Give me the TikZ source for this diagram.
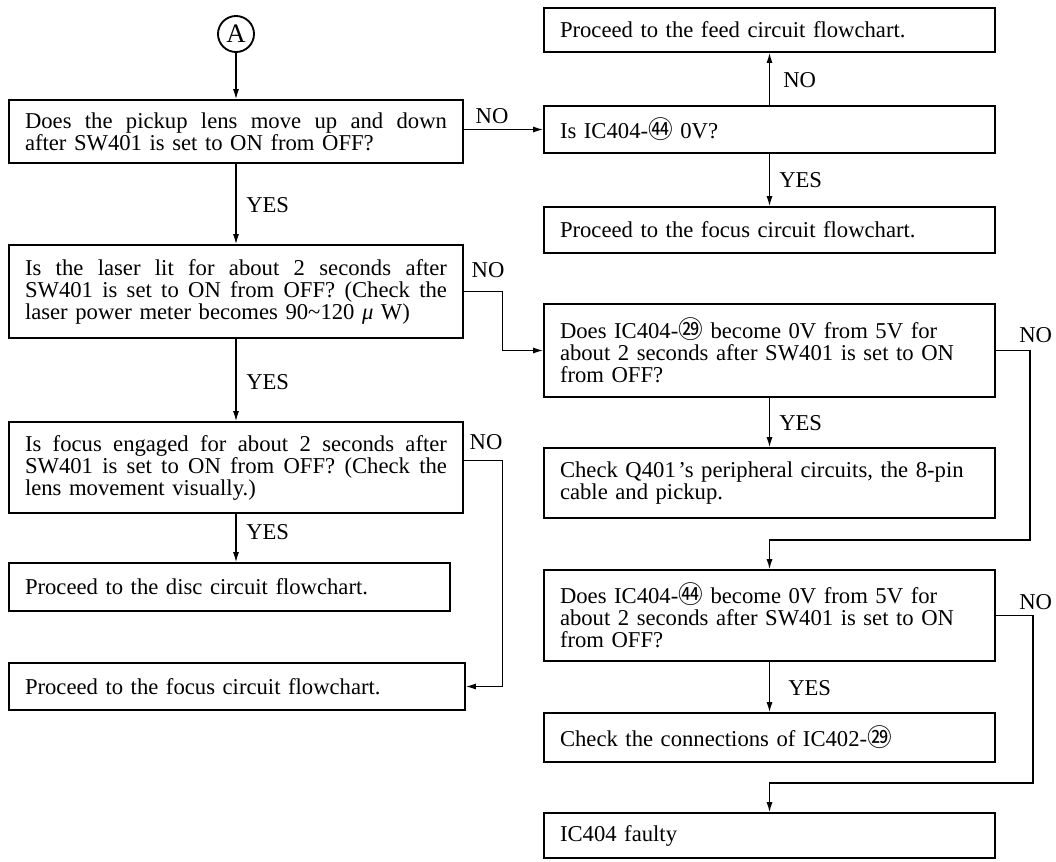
\documentclass[tikz,border=0pt]{standalone}
\usepackage{fontspec}
\setmainfont{Liberation Serif}
\newfontfamily\cjkfont{Noto Sans CJK SC}
\usetikzlibrary{arrows.meta}
\newcommand{\bodyfont}{\fontsize{17}{16.5}\selectfont}
\newcommand{\cnum}[1]{{\cjkfont\fontsize{18.5}{16.5}\selectfont #1}}
\newcommand{\jl}[1]{\makebox[316.5pt][s]{\spaceskip=0.25em plus 1em minus 0.05em\xspaceskip=0pt #1}}
\begin{document}
\begin{tikzpicture}[x=0.75pt,y=-0.75pt,
  box/.style={draw, line width=1.3pt, rectangle, inner sep=0pt, align=left, font=\bodyfont},
  lbox/.style={box, minimum width=340.5pt, text width=316.5pt},
  rbox/.style={box, minimum width=338.25pt, text width=314.25pt},
  lab/.style={inner sep=0pt, font=\bodyfont},
  conn/.style={line width=0.9pt, -{Latex[length=7.5pt,width=4.5pt]}}]
\useasboundingbox (0,0) rectangle (1056,861);

% start connector
\node[draw, circle, line width=1.4pt, minimum size=27pt, inner sep=0pt, font=\fontsize{20}{20}\selectfont] (A) at (236,34) {A};

% left column
\node[lbox, minimum height=47.25pt] (box1) at (236,131.5)
  {\jl{Does the pickup lens move up and down}\\after SW401 is set to ON from OFF?};
\node[lbox, minimum height=69.75pt] (box2) at (236,291.5)
  {\jl{Is the laser lit for about 2 seconds after}\\\jl{SW401 is set to ON from OFF? (Check the}\\laser power meter becomes 90\textasciitilde120 {\itshape μ} W)};
\node[lbox, minimum height=68.25pt] (box3) at (236,467.5)
  {\jl{Is focus engaged for about 2 seconds after}\\\jl{SW401 is set to ON from OFF? (Check the}\\lens movement visually.)};
\node[box, minimum width=330.75pt, text width=306.75pt, minimum height=36pt] (box4) at (229.5,587)
  {Proceed to the disc circuit flowchart.};
\node[box, minimum width=342pt, text width=318pt, minimum height=35.25pt] (box5) at (237,686.5)
  {Proceed to the focus circuit flowchart.};

% right column
\node[rbox, minimum height=33pt] (R0) at (769.5,30) {Proceed to the feed circuit flowchart.};
\node[rbox, minimum height=35.25pt] (R1) at (769.5,129.5) {Is IC404-\cnum{㊹} 0V?};
\node[rbox, minimum height=34.5pt] (R2) at (769.5,230) {Proceed to the focus circuit flowchart.};
\node[rbox, minimum height=69.75pt] (R3) at (769.5,350.5)
  {Does IC404-\cnum{㉙} become 0V from 5V for\\about 2 seconds after SW401 is set to ON\\from OFF?};
\node[rbox, minimum height=52.5pt] (R4) at (769.5,483)
  {Check Q401\kern2pt’s peripheral circuits, the 8-pin\\cable and pickup.};
\node[rbox, minimum height=68.25pt] (R5) at (769.5,615.5)
  {Does IC404-\cnum{㊹} become 0V from 5V for\\about 2 seconds after SW401 is set to ON\\from OFF?};
\node[rbox, minimum height=36.75pt] (R6) at (769.5,737.5) {Check the connections of IC402-\cnum{㉙}};
\node[rbox, minimum height=33.75pt] (R7) at (769.5,835.5) {IC404 faulty};

% connectors
\draw[conn] (A.south) -- (box1.north);
\draw[conn] (box1.south) -- (box2.north);
\draw[conn] (box2.south) -- (box3.north);
\draw[conn] (box3.south) -- (box3.south |- box4.north);
\draw[conn] (box1.east |- R1.west) -- (R1.west);
\draw[conn] (box2.east) -- ++(39,0) |- (R3.west);
\draw[conn] ([yshift=5.25pt]box3.east) -- ++(39,0) |- (box5.east);
\draw[conn] (R1.north) -- (R0.south);
\draw[conn] (R1.south) -- (R2.north);
\draw[conn] (R3.south) -- (R4.north);
\coordinate (c1) at (1030,540);
\draw[conn] (R3.east) -| (c1) -| (R5.north);
\draw[conn] (R5.south) -- (R6.north);
\coordinate (c2) at (1033,783);
\draw[conn] (R5.east) -| (c2) -| (R7.north);

% labels
\node[lab] (no1) at (492,116) {NO};
\node[lab] (no2) at (488,270) {NO};
\node[lab] (no3) at (486,442) {NO};
\node[lab,anchor=west] (yes1) at (246,205) {YES};
\node[lab,anchor=west] (yes2) at (246,382) {YES};
\node[lab,anchor=west] (yes3) at (246,532) {YES};
\node[lab,anchor=west] (no4) at (783,80) {NO};
\node[lab,anchor=west] (yes4) at (779,180) {YES};
\node[lab,anchor=west] (yes5) at (779,423) {YES};
\node[lab,anchor=west] (no5) at (1019,335) {NO};
\node[lab,anchor=west] (no6) at (1019,602) {NO};
\node[lab,anchor=west] (yes6) at (788,688) {YES};
\end{tikzpicture}
\end{document}
